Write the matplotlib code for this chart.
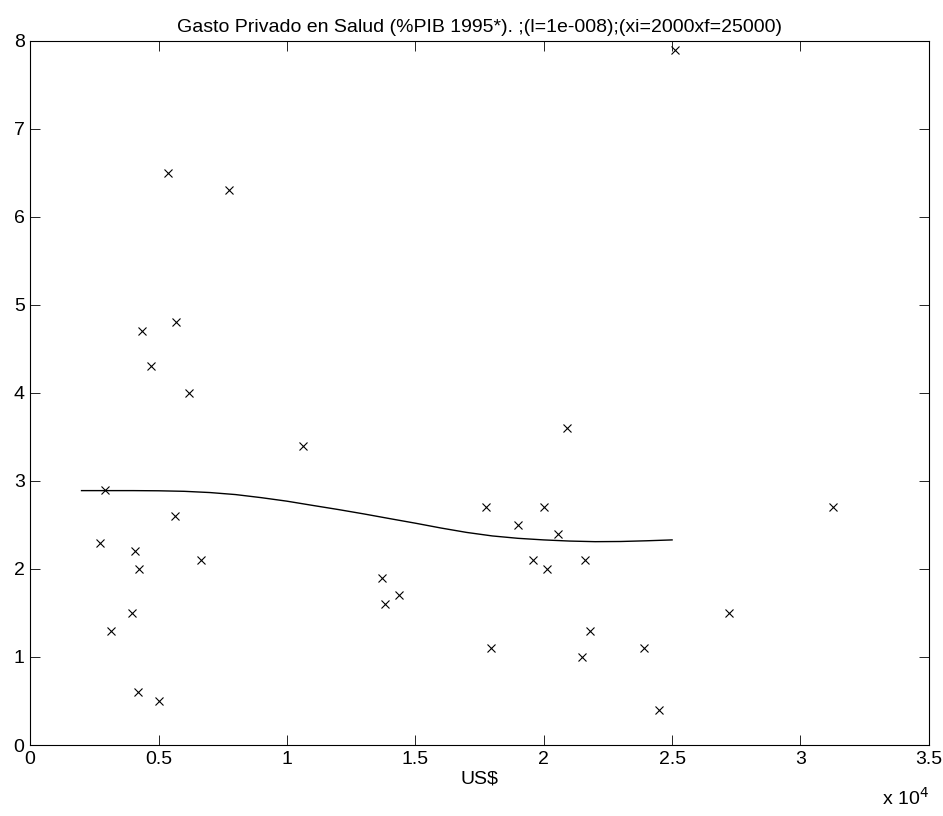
import matplotlib
matplotlib.use("Agg")
import matplotlib.pyplot as plt

# data
x_pts = [2730, 2930, 3160, 3980, 4100, 4220, 4180, 4340, 4690, 5000, 5350, 5660,
         5625, 6170, 6640, 7730, 10625, 13710, 13830, 14375, 17770, 17930, 18980,
         19570, 20000, 20120, 20550, 20900, 21480, 21600, 21800, 23900, 24500,
         25100, 27200, 31250]
y_pts = [2.3, 2.9, 1.3, 1.5, 2.2, 2.0, 0.6, 4.7, 4.3, 0.5, 6.5, 4.8,
         2.6, 4.0, 2.1, 6.3, 3.4, 1.9, 1.6, 1.7, 2.7, 1.1, 2.5,
         2.1, 2.7, 2.0, 2.4, 3.6, 1.0, 2.1, 1.3, 1.1, 0.4,
         7.9, 1.5, 2.7]

# smoothing curve (l=1e-008), xi=2000 .. xf=25000
x_fit = [2000, 3000, 4000, 5000, 6000, 7000, 8000, 9000, 10000, 11000, 12000,
         13000, 14000, 15000, 16000, 17000, 18000, 19000, 20000, 21000, 22000,
         23000, 24000, 25000]
y_fit = [2.89, 2.89, 2.89, 2.888, 2.882, 2.868, 2.845, 2.81, 2.77, 2.722, 2.675,
         2.625, 2.572, 2.52, 2.465, 2.415, 2.375, 2.348, 2.33, 2.317, 2.31,
         2.312, 2.32, 2.33]

plt.rcParams['font.family'] = ['Liberation Sans', 'DejaVu Sans']
fs = 14

fig = plt.figure(figsize=(9.43, 8.16), dpi=100)
ax = fig.add_axes([0.032, 0.087, 0.953, 0.863])

ax.plot(x_pts, y_pts, 'x', color='k', markersize=6, markeredgewidth=0.8)
ax.plot(x_fit, y_fit, '-', color='k', linewidth=1.0)

ax.set_xlim(0, 35000)
ax.set_ylim(0, 8)
ax.set_xticks([0, 5000, 10000, 15000, 20000, 25000, 30000, 35000])
ax.set_xticklabels(['0', '0.5', '1', '1.5', '2', '2.5', '3', '3.5'])
ax.set_yticks(range(0, 9))
ax.tick_params(direction='in', top=True, right=True, length=7, width=0.6,
               labelsize=fs, pad=4)
for s in ax.spines.values():
    s.set_linewidth(0.8)

ax.set_xlabel('US$', fontsize=fs, labelpad=2)
ax.set_title('Gasto Privado en Salud (%PIB 1995*). ;(l=1e-008);(xi=2000xf=25000)',
             fontsize=fs, pad=6)
ax.text(1.0, -0.075, r'x 10$^{4}$', transform=ax.transAxes, ha='right', va='center',
        fontsize=fs)

fig.savefig('out.png', dpi=100)
